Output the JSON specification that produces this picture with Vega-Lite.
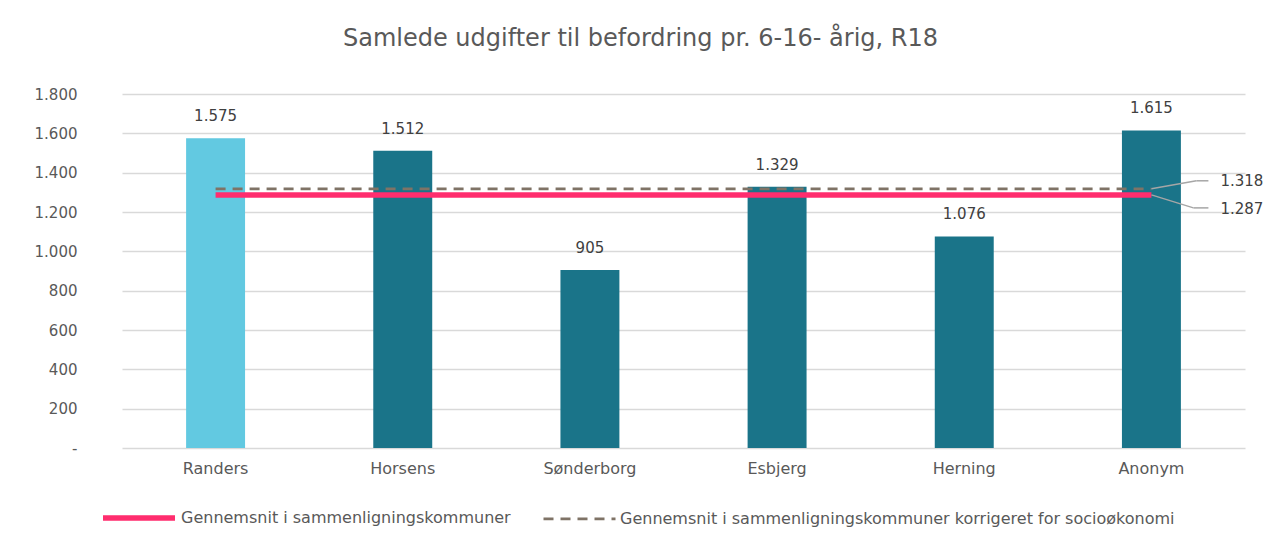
{
  "$schema": "https://vega.github.io/schema/vega-lite/v6.json",
  "autosize": {"type": "none"},
  "width": 1123,
  "height": 354,
  "padding": {"left": 122, "top": 94, "right": 21, "bottom": 94},
  "background": "white",
  "config": {
    "font": "DejaVu Sans",
    "view": {"stroke": null},
    "locale": {"number": {"decimal": ",", "thousands": ".", "grouping": [3], "currency": ["", " kr."]}}
  },
  "title": {
    "text": "Samlede udgifter til befordring pr. 6-16- årig, R18",
    "fontSize": 24,
    "fontWeight": "normal",
    "color": "#595959",
    "anchor": "middle",
    "dx": -43,
    "offset": 36
  },
  "datasets": {
    "bars": [
      {"kommune": "Randers", "value": 1575},
      {"kommune": "Horsens", "value": 1512},
      {"kommune": "Sønderborg", "value": 905},
      {"kommune": "Esbjerg", "value": 1329},
      {"kommune": "Herning", "value": 1076},
      {"kommune": "Anonym", "value": 1615}
    ],
    "lines": [
      {"kommune": "Randers", "serie": "Gennemsnit i sammenligningskommuner", "value": 1287},
      {"kommune": "Horsens", "serie": "Gennemsnit i sammenligningskommuner", "value": 1287},
      {"kommune": "Sønderborg", "serie": "Gennemsnit i sammenligningskommuner", "value": 1287},
      {"kommune": "Esbjerg", "serie": "Gennemsnit i sammenligningskommuner", "value": 1287},
      {"kommune": "Herning", "serie": "Gennemsnit i sammenligningskommuner", "value": 1287},
      {"kommune": "Anonym", "serie": "Gennemsnit i sammenligningskommuner", "value": 1287},
      {"kommune": "Randers", "serie": "Gennemsnit i sammenligningskommuner korrigeret for socioøkonomi", "value": 1318},
      {"kommune": "Horsens", "serie": "Gennemsnit i sammenligningskommuner korrigeret for socioøkonomi", "value": 1318},
      {"kommune": "Sønderborg", "serie": "Gennemsnit i sammenligningskommuner korrigeret for socioøkonomi", "value": 1318},
      {"kommune": "Esbjerg", "serie": "Gennemsnit i sammenligningskommuner korrigeret for socioøkonomi", "value": 1318},
      {"kommune": "Herning", "serie": "Gennemsnit i sammenligningskommuner korrigeret for socioøkonomi", "value": 1318},
      {"kommune": "Anonym", "serie": "Gennemsnit i sammenligningskommuner korrigeret for socioøkonomi", "value": 1318}
    ],
    "upper": [{"kommune": "Anonym", "value": 1318}],
    "lower": [{"kommune": "Anonym", "value": 1287}]
  },
  "encoding": {
    "x": {
      "field": "kommune",
      "type": "nominal",
      "sort": ["Randers", "Horsens", "Sønderborg", "Esbjerg", "Herning", "Anonym"],
      "scale": {"paddingInner": 0.685, "paddingOuter": 0.3425},
      "axis": {
        "title": null,
        "labelAngle": 0,
        "labelFontSize": 16,
        "labelColor": "#595959",
        "labelPadding": 12,
        "domain": false,
        "ticks": false
      }
    },
    "y": {
      "field": "value",
      "type": "quantitative",
      "scale": {"domain": [0, 1800], "nice": false},
      "axis": {
        "title": null,
        "values": [0, 200, 400, 600, 800, 1000, 1200, 1400, 1600, 1800],
        "labelExpr": "datum.value == 0 ? '-' : format(datum.value, ',')",
        "labelOverlap": false,
        "labelFontSize": 15,
        "labelColor": "#595959",
        "labelPadding": 45,
        "domain": false,
        "ticks": false,
        "gridColor": "#d9d9d9",
        "gridWidth": 1.5
      }
    }
  },
  "layer": [
    {
      "data": {"name": "bars"},
      "mark": {"type": "bar"},
      "encoding": {
        "color": {
          "condition": {"test": "datum.kommune == 'Randers'", "value": "#62C9E1"},
          "value": "#1A7489"
        }
      }
    },
    {
      "data": {"name": "bars"},
      "mark": {"type": "text", "baseline": "bottom", "dy": -14, "fontSize": 15, "color": "#404040"},
      "encoding": {
        "text": {"field": "value", "type": "quantitative", "format": ","}
      }
    },
    {
      "data": {"name": "lines"},
      "mark": {"type": "line"},
      "encoding": {
        "color": {
          "field": "serie",
          "type": "nominal",
          "scale": {
            "domain": ["Gennemsnit i sammenligningskommuner", "Gennemsnit i sammenligningskommuner korrigeret for socioøkonomi"],
            "range": ["#FF2D6E", "#7F7366"]
          },
          "legend": {
            "title": null,
            "orient": "none",
            "legendX": -22,
            "legendY": 385,
            "direction": "horizontal",
            "symbolType": "stroke",
            "symbolSize": 5184,
            "labelFontSize": 16,
            "labelColor": "#595959",
            "labelOffset": 3,
            "labelLimit": 0,
            "columnPadding": 27
          }
        },
        "strokeDash": {
          "field": "serie",
          "type": "nominal",
          "scale": {
            "domain": ["Gennemsnit i sammenligningskommuner", "Gennemsnit i sammenligningskommuner korrigeret for socioøkonomi"],
            "range": [[1, 0], [10, 7]]
          }
        },
        "strokeWidth": {
          "field": "serie",
          "type": "nominal",
          "scale": {
            "domain": ["Gennemsnit i sammenligningskommuner", "Gennemsnit i sammenligningskommuner korrigeret for socioøkonomi"],
            "range": [5.5, 2.75]
          }
        }
      }
    },
    {
      "data": {"name": "upper"},
      "mark": {"type": "rule", "color": "#A6A6A6", "strokeWidth": 1.5, "x2Offset": 45, "y2Offset": -8},
      "encoding": {"x2": {"field": "kommune"}, "y2": {"field": "value"}}
    },
    {
      "data": {"name": "upper"},
      "mark": {"type": "rule", "color": "#A6A6A6", "strokeWidth": 1.5, "xOffset": 45, "x2Offset": 57, "yOffset": -8, "y2Offset": -8},
      "encoding": {"x2": {"field": "kommune"}, "y2": {"field": "value"}}
    },
    {
      "data": {"name": "lower"},
      "mark": {"type": "rule", "color": "#A6A6A6", "strokeWidth": 1.5, "x2Offset": 42, "y2Offset": 13},
      "encoding": {"x2": {"field": "kommune"}, "y2": {"field": "value"}}
    },
    {
      "data": {"name": "lower"},
      "mark": {"type": "rule", "color": "#A6A6A6", "strokeWidth": 1.5, "xOffset": 42, "x2Offset": 57, "yOffset": 13, "y2Offset": 13},
      "encoding": {"x2": {"field": "kommune"}, "y2": {"field": "value"}}
    },
    {
      "data": {"name": "upper"},
      "mark": {"type": "text", "align": "left", "baseline": "middle", "fontSize": 15, "color": "#404040", "dx": 69, "dy": -8},
      "encoding": {"text": {"field": "value", "type": "quantitative", "format": ","}}
    },
    {
      "data": {"name": "lower"},
      "mark": {"type": "text", "align": "left", "baseline": "middle", "fontSize": 15, "color": "#404040", "dx": 69, "dy": 14},
      "encoding": {"text": {"field": "value", "type": "quantitative", "format": ","}}
    }
  ]
}
